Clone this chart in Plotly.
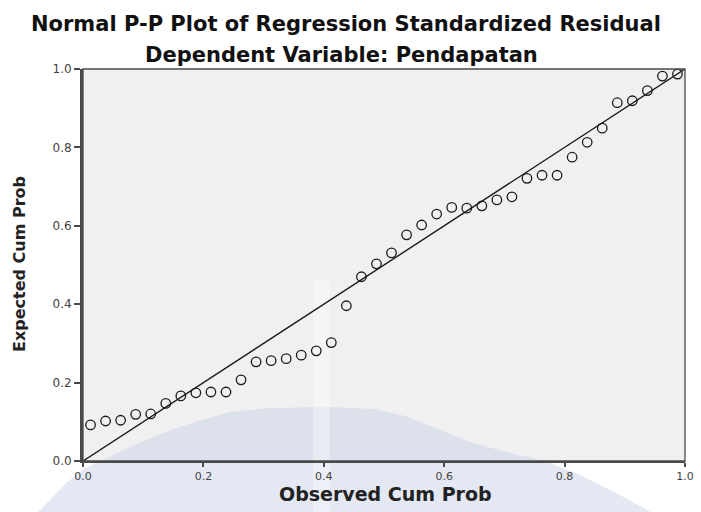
import plotly.graph_objects as go

# Observed cumulative probability (x) and expected cumulative probability (y)
observed_cum_prob = [0.0125, 0.0375, 0.0625, 0.0875, 0.1125, 0.1375, 0.1625, 0.1875, 0.2125, 0.2375,
                     0.2625, 0.2875, 0.3125, 0.3375, 0.3625, 0.3875, 0.4125, 0.4375, 0.4625, 0.4875,
                     0.5125, 0.5375, 0.5625, 0.5875, 0.6125, 0.6375, 0.6625, 0.6875, 0.7125, 0.7375,
                     0.7625, 0.7875, 0.8125, 0.8375, 0.8625, 0.8875, 0.9125, 0.9375, 0.9625, 0.9875]
expected_cum_prob = [0.092, 0.102, 0.104, 0.119, 0.120, 0.147, 0.166, 0.174, 0.176, 0.176,
                     0.207, 0.253, 0.256, 0.261, 0.270, 0.281, 0.302, 0.396, 0.470, 0.503,
                     0.531, 0.577, 0.602, 0.630, 0.647, 0.645, 0.651, 0.666, 0.674, 0.721,
                     0.729, 0.729, 0.775, 0.813, 0.849, 0.914, 0.919, 0.945, 0.982, 0.987]
reference_line = [0.0, 1.0]
tick_values = [0.0, 0.2, 0.4, 0.6, 0.8, 1.0]
tick_labels = ["0.0", "0.2", "0.4", "0.6", "0.8", "1.0"]

title_text = "Normal P-P Plot of Regression Standardized Residual"
subtitle_text = "Dependent Variable: Pendapatan"
x_title = "Observed Cum Prob"
y_title = "Expected Cum Prob"

W, H = 701, 512
ML, MR, MT, MB = 83, 16, 69, 51
PW, PH = W - ML - MR, H - MT - MB


def to_paper(px, py):
    """pixel position in the figure -> paper coordinates (for decorative shapes only)"""
    return (px - ML) / PW, (H - MB - py) / PH


fig = go.Figure()

fig.add_trace(go.Scatter(
    x=reference_line, y=reference_line, mode="lines",
    line=dict(color="#1a1a1a", width=1.4), hoverinfo="skip", showlegend=False,
))
fig.add_trace(go.Scatter(
    x=observed_cum_prob, y=expected_cum_prob, mode="markers",
    marker=dict(symbol="circle-open", size=9.5, color="#1a1a1a", line=dict(width=1.3, color="#1a1a1a")),
    showlegend=False,
))

# faint watermark dome in the lower part of the image (decorative)
dome_px = [(30, 520), (50, 500), (65, 484), (85, 468), (105, 459), (130, 447), (160, 434), (195, 422),
           (230, 412), (270, 408), (330, 407), (375, 409), (405, 416), (435, 428), (470, 442),
           (510, 453), (545, 461), (580, 475), (620, 495), (665, 520)]
pts = [to_paper(px, py) for px, py in dome_px]
dome_path = "M " + " L ".join(f"{x:.4f},{y:.4f}" for x, y in pts) + " Z"
sx0, sy0 = to_paper(313, 520)
sx1, sy1 = to_paper(330, 280)

shapes = [
    dict(type="path", xref="paper", yref="paper", path=dome_path,
         fillcolor="rgba(204,212,233,0.53)", line=dict(width=0), layer="below"),
    dict(type="rect", xref="paper", yref="paper", x0=sx0, x1=sx1, y0=sy0, y1=sy1,
         fillcolor="rgba(255,255,255,0.35)", line=dict(width=0), layer="below"),
    # thin frame (top / right)
    dict(type="rect", xref="paper", yref="paper", x0=0, x1=1, y0=0, y1=1,
         line=dict(color="#4a4a4a", width=1.3), fillcolor="rgba(0,0,0,0)", layer="above"),
]

axis_common = dict(
    range=[0, 1], tickvals=tick_values, ticktext=tick_labels,
    showgrid=False, zeroline=False, showline=True, linecolor="#4a4a4a",
    ticks="outside", tickwidth=1.5, tickcolor="#4a4a4a",
    mirror=False, fixedrange=True, automargin=False,
)

fig.update_layout(
    width=W, height=H, autosize=False,
    margin=dict(l=ML, r=MR, t=MT, b=MB, autoexpand=False),
    paper_bgcolor="white", plot_bgcolor="#f0f0f0",
    shapes=shapes,
    xaxis=dict(**axis_common, linewidth=2, ticklen=4,
               tickfont=dict(family="DejaVu Sans, Arial, sans-serif", size=11, color="#444444")),
    yaxis=dict(**axis_common, linewidth=3, ticklen=6,
               tickfont=dict(family="DejaVu Sans, Arial, sans-serif", size=12, color="#444444")),
    annotations=[
        dict(text="<b>" + title_text + "</b>", xref="paper", yref="paper", x=0.437, y=1,
             yshift=45, showarrow=False, xanchor="center", yanchor="middle",
             font=dict(family="DejaVu Sans, Arial, sans-serif", size=21, color="#111111")),
        dict(text="<b>" + subtitle_text + "</b>", xref="paper", yref="paper", x=0.43, y=1,
             yshift=14, showarrow=False, xanchor="center", yanchor="middle",
             font=dict(family="DejaVu Sans, Arial, sans-serif", size=21, color="#111111")),
        dict(text="<b>" + x_title + "</b>", xref="paper", yref="paper", x=0.503, y=0,
             yshift=-33, showarrow=False, xanchor="center", yanchor="middle",
             font=dict(family="DejaVu Sans, Arial, sans-serif", size=19, color="#222222")),
        dict(text="<b>" + y_title + "</b>", xref="paper", yref="paper", x=0, y=0.5026,
             xshift=-63, showarrow=False, xanchor="center", yanchor="middle", textangle=-90,
             font=dict(family="DejaVu Sans, Arial, sans-serif", size=16, color="#222222")),
    ],
)

fig.write_html(
    "out.html",
    config={"displayModeBar": False},
    post_script="document.documentElement.style.overflow='hidden';"
                "document.body.style.margin='0';document.body.style.overflow='hidden';",
)
